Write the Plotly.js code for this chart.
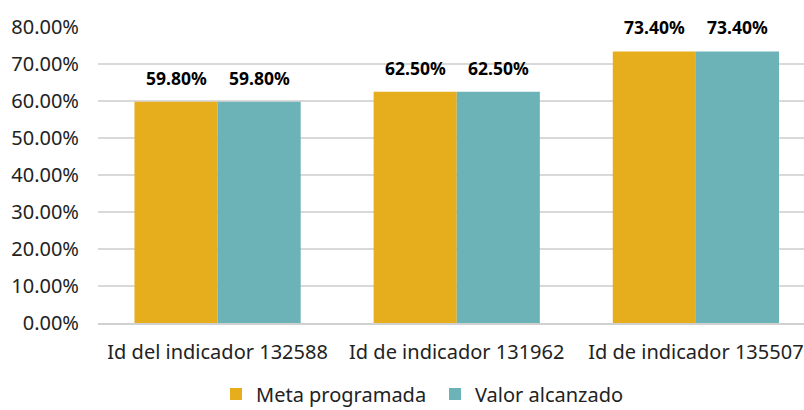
<!DOCTYPE html>
<html>
<head>
<meta charset="utf-8">
<script src="https://cdn.plot.ly/plotly-3.0.1.min.js"></script>
<style>html,body{margin:0;padding:0;background:#fff;}#chart{width:804px;height:410px;}</style>
</head>
<body>
<div id="chart"></div>
<script>
const categories = ["Id del indicador 132588", "Id de indicador 131962", "Id de indicador 135507"];
const metaProgramada = [0.598, 0.625, 0.734];
const valorAlcanzado = [0.598, 0.625, 0.734];
const seriesNames = ["Meta programada", "Valor alcanzado"];
const colors = ["#E6AD1C", "#6BB3B6"];

const FONT = "Noto Sans, Open Sans, sans-serif";

const traces = [
  {type: "bar", name: seriesNames[0], x: categories, y: metaProgramada, marker: {color: colors[0]}, hoverinfo: "none"},
  {type: "bar", name: seriesNames[1], x: categories, y: valorAlcanzado, marker: {color: colors[1]}, hoverinfo: "none"}
];

const annotations = [];
[metaProgramada, valorAlcanzado].forEach((vals, s) => {
  vals.forEach((v, i) => {
    annotations.push({
      x: categories[i], y: v, xref: "x", yref: "y",
      text: (v * 100).toFixed(2) + "%",
      showarrow: false, yanchor: "bottom",
      xshift: s === 0 ? -41.5 : 41.5, yshift: 10,
      font: {family: FONT, size: 17.5, color: "#000", weight: "bold"}
    });
  });
});

const layout = {
  width: 804, height: 410,
  margin: {l: 98, r: 0, t: 27, b: 87, autoexpand: false},
  paper_bgcolor: "#fff", plot_bgcolor: "#fff",
  barmode: "group", bargap: 0.305, bargroupgap: 0,
  font: {family: FONT, color: "#222"},
  xaxis: {
    type: "category", range: [-0.5, 2.452],
    showgrid: false, showline: true, linecolor: "#d0d0d0", linewidth: 1.5,
    ticks: "", tickfont: {size: 20, color: "#222"}, ticklabelstandoff: 10
  },
  yaxis: {
    range: [0, 0.8], tickvals: [0,0.1,0.2,0.3,0.4,0.5,0.6,0.7,0.8], tickformat: ".2%",
    showgrid: true, gridcolor: "#d9d9d9", gridwidth: 1.5, zeroline: false, showline: false,
    ticks: "", tickfont: {size: 20, color: "#222"}, ticklabelstandoff: 18
  },
  showlegend: true,
  legend: {orientation: "h", xref: "container", yref: "container",
           x: 216/804, xanchor: "left", y: 1 - 394/410, yanchor: "middle",
           font: {size: 20, color: "#222"}, itemwidth: 30, traceorder: "normal",
           entrywidth: 174, entrywidthmode: "pixels"},
  annotations: annotations
};

Plotly.newPlot("chart", traces, layout, {staticPlot: true, displayModeBar: false});
</script>
</body>
</html>
